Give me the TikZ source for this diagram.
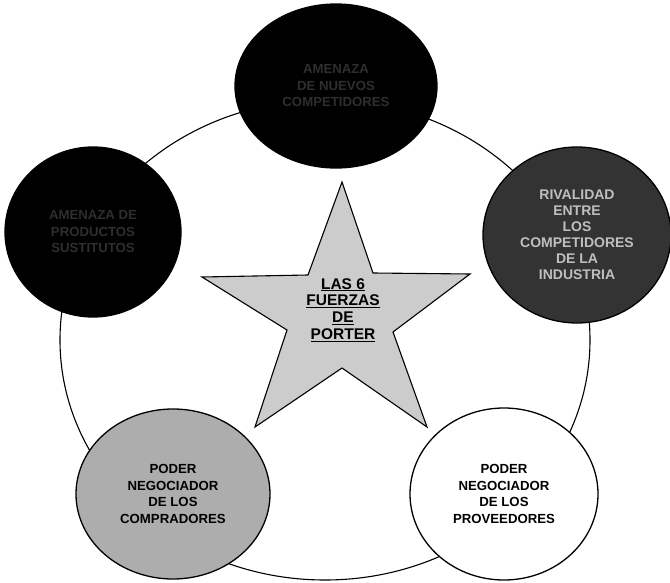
\documentclass[tikz,border=0pt]{standalone}
\usepackage{fontspec}
\setmainfont{Liberation Sans}
\usetikzlibrary{shapes.geometric}
\begin{document}
\begin{tikzpicture}[x=1pt,y=-1pt,
  force/.style={ellipse, draw=black, line width=1.3pt, inner sep=0pt, align=center},
  lbl/.style={font=\bfseries\fontsize{13.2}{16.5}\selectfont},
  rlbl/.style={font=\bfseries\fontsize{14}{16}\selectfont},
  slbl/.style={font=\bfseries\fontsize{15.5}{16.8}\selectfont, align=center},
]
\useasboundingbox[fill=white] (0,0) rectangle (670,583);
% outer ring
\draw[line width=1.1pt] (325,340) ellipse [x radius=265pt, y radius=240pt];
% star
\filldraw[fill=black!20, draw=black, line width=1.1pt]
  (342,182) -- (373,273) -- (470,274) -- (393,332) -- (427,427) --
  (342,368) -- (255,427) -- (287,330) -- (202,277) -- (308,275) -- cycle;
\node[slbl] (star) at (343,310) {\underline{LAS 6}\\\underline{FUERZAS}\\\underline{DE}\\\underline{PORTER}};
% forces
\node[force, fill=black, text=black!82, lbl, minimum width=202pt, minimum height=164pt] (top) at (336,86)
  {AMENAZA\\DE NUEVOS\\COMPETIDORES};
\node[force, fill=black, text=black!82, lbl, minimum width=176pt, minimum height=170pt] (left) at (93,232)
  {AMENAZA DE\\PRODUCTOS\\SUSTITUTOS};
\node[force, fill=black!80, text=white!75!black, rlbl, minimum width=188pt, minimum height=176pt] (right) at (577,235)
  {RIVALIDAD\\ENTRE\\LOS\\COMPETIDORES\\DE LA\\INDUSTRIA};
\node[force, fill=black!32, text=black, lbl, minimum width=194pt, minimum height=170pt] (buyers) at (173,494)
  {PODER\\NEGOCIADOR\\DE LOS\\COMPRADORES};
\node[force, fill=white, text=black, lbl, minimum width=188pt, minimum height=172pt] (suppliers) at (504,494)
  {PODER\\NEGOCIADOR\\DE LOS\\PROVEEDORES};
\end{tikzpicture}
\end{document}
